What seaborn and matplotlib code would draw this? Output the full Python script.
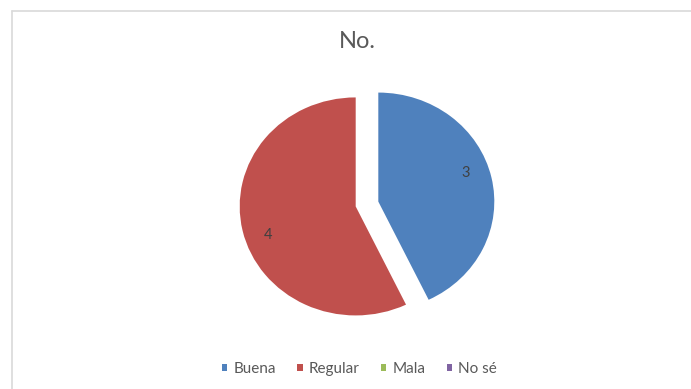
import matplotlib
matplotlib.use("Agg")
import numpy as np
import matplotlib.pyplot as plt
from matplotlib.lines import Line2D
from matplotlib.patches import Patch
import seaborn as sns

# Survey answers and their counts
categories = ["Buena", "Regular", "Mala", "No sé"]
counts = [3, 4, 0, 0]
title = "No."

sns.set_theme(style="white")
plt.rcParams["font.family"] = ["Lato", "DejaVu Sans"]

colors = ["#4F81BD", "#C0504D", "#9BBB59", "#8064A2"]
text_color = "#595959"

W, H = 691, 389
fig = plt.figure(figsize=(W / 100, H / 100), dpi=100)
fig.patch.set_facecolor("white")

# Pie area: center at (367, 204) px, slight horizontal stretch
cx, cy = 367, 204
lim = 1.3
rx, ry = 116, 109
aw, ah = 2 * lim * rx, 2 * lim * ry
ax = fig.add_axes([(cx - aw / 2) / W, (H - cy - ah / 2) / H, aw / W, ah / H])

explode = [0.1] * len(counts)
wedges, _ = ax.pie(
    counts,
    colors=colors,
    startangle=90,
    counterclock=False,
    explode=explode,
    wedgeprops=dict(linewidth=0),
)

# Value labels inside each non-empty wedge, set a little off the bisector
label_r, label_shift = 0.8, 6
for w, v in zip(wedges, counts):
    if v <= 0:
        continue
    mid = 0.5 * (w.theta1 + w.theta2)
    ox, oy = w.center
    ang = np.deg2rad(mid + label_shift)
    ax.text(ox + label_r * np.cos(ang), oy + label_r * np.sin(ang), f"{v}",
            ha="center", va="center", fontsize=10.5, color="#404040")

ax.set_xlim(-lim, lim)
ax.set_ylim(-lim, lim)
ax.set_aspect("auto")
ax.axis("off")

fig.text(357 / W, 1 - 41 / H, title, ha="center", va="center",
         fontsize=17, color=text_color)

handles = [Patch(facecolor=c, edgecolor="none") for c in colors]
fig.legend(handles, categories, loc="center", bbox_to_anchor=(359.5 / W, 1 - 369 / H),
           ncol=4, frameon=False, fontsize=11, handlelength=0.35, handleheight=0.35,
           handletextpad=0.4, columnspacing=1.4, labelcolor=text_color,
           borderpad=0, borderaxespad=0)

# Chart-area border (left and top edges)
border = "#D9D9D9"
fig.add_artist(Line2D([11.5 / W, 11.5 / W], [0, 1 - 11 / H], color=border, lw=1.2,
                      transform=fig.transFigure))
fig.add_artist(Line2D([11.5 / W, 1], [1 - 11 / H, 1 - 11 / H], color=border, lw=1.2,
                      transform=fig.transFigure))

fig.savefig("out.png", dpi=100, facecolor="white")
